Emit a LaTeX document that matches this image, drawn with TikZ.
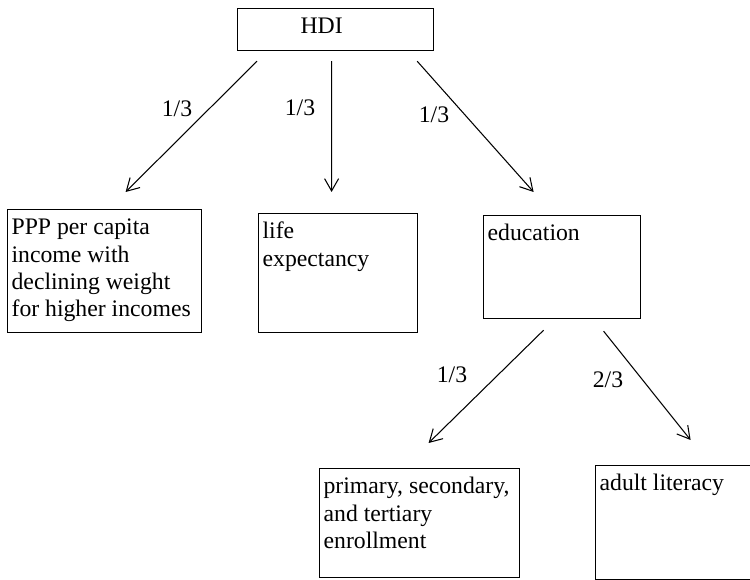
\documentclass[tikz,border=0pt]{standalone}
\usepackage{fontspec}
\setmainfont{Liberation Serif}
\usetikzlibrary{arrows.meta,calc}
\newcommand{\boxlines}[3]{\parbox[t][#2][t]{#1}{\leftskip=0.08cm\rule{0pt}{0.5cm}#3}}

\begin{document}
\begin{tikzpicture}[x=0.02cm,y=-0.02cm,
  font=\fontsize{13.5}{15.6}\selectfont,
  box/.style={draw, line width=0.7pt, inner sep=0pt, anchor=north west},
  wt/.style={-{Straight Barb[length=7pt,width=8pt]}, line width=0.6pt},
  share/.style={inner sep=0pt}]
\useasboundingbox (0,0) rectangle (750,580);

\node[box] (hdi) at (237,8) {\boxlines{3.92cm}{0.84cm}{\hspace*{1.18cm}HDI}};
\node[box] (ppp) at (7,209) {\boxlines{3.88cm}{2.46cm}{PPP per capita\\income with\\declining weight\\for higher incomes}};
\node[box] (life) at (258,213) {\boxlines{3.18cm}{2.38cm}{life\\expectancy}};
\node[box] (edu) at (483,215) {\boxlines{3.14cm}{2.06cm}{education}};
\node[box] (prim) at (319,468) {\boxlines{4.0cm}{2.18cm}{primary, secondary,\\and tertiary\\enrollment}};
\node[box] (lit) at (595,465) {\boxlines{3.2cm}{2.28cm}{adult literacy}};

\draw[wt] ($(hdi.south west)+(20,10)$) -- ($(ppp.north)+(21,-17)$);
\draw[wt] ($(hdi.south)+(-4,10)$) -- ($(life.north)+(-6.5,-21)$);
\draw[wt] ($(hdi.south east)+(-17,10)$) -- ($(edu.north)+(-28.5,-23)$);
\draw[wt] ($(edu.south)+(-18.5,11)$) -- ($(prim.north)+(9,-25)$);
\draw[wt] ($(edu.south)+(41.5,12)$) -- ($(lit.north)+(15,-25)$);

\node[share] (w1) at (177,109) {1/3};
\node[share] (w2) at (300,108) {1/3};
\node[share] (w3) at (434,115) {1/3};
\node[share] (w4) at (452,375) {1/3};
\node[share] (w5) at (608,380) {2/3};
\end{tikzpicture}
\end{document}
